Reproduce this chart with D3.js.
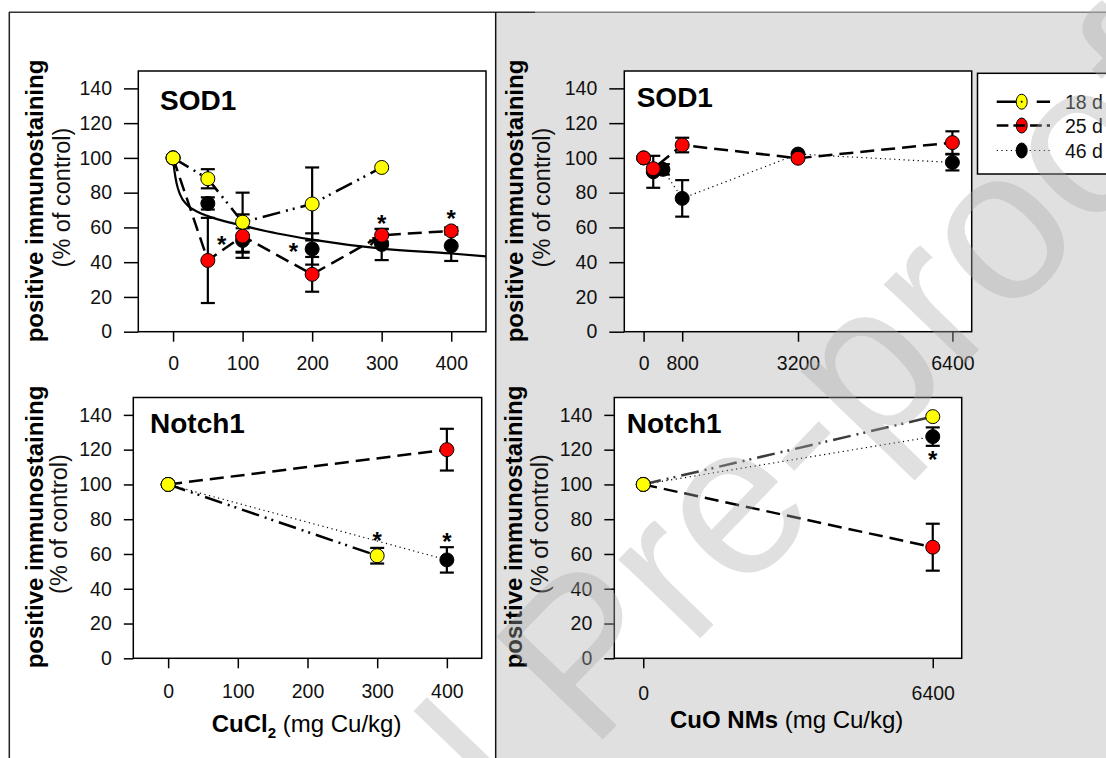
<!DOCTYPE html>
<html>
<head>
<meta charset="utf-8">
<script src="https://cdn.jsdelivr.net/npm/d3@7"></script>
<style>
    body { margin: 0; background: #fff; }
    svg { display: block; font-family: "Liberation Sans", Arial, sans-serif; }
</style>
</head>
<body>
<svg id="chart" width="1106" height="758"></svg>
<script>
// ---- data ----
var yTicks = [0, 20, 40, 60, 80, 100, 120, 140];
var xTicksCuCl = [0, 100, 200, 300, 400];
var xTicksCuOSod = [0, 800, 3200, 6400];
var xTicksCuONotch = [0, 6400];

// SOD1, CuCl2
var sodCuClDose = [0, 50, 100, 200, 300, 400];
var sodCuCl18 = [100, 88, 63, 73.5, 94.5, null];
var sodCuCl18Err = [0, 5.5, 17, 21, 0, 0];
var sodCuCl25 = [100, 41, 55, 33, 55.5, 58];
var sodCuCl25Err = [0, 24.5, 12.5, 10, 3.5, 2];
var sodCuCl46 = [100, 73.8, 52.5, 47.6, 50.2, 49.4];
var sodCuCl46Err = [0, 3.5, 7, 9, 9, 8.7];
// fitted curve, points
var sodCuClFitX = [0, 2, 5, 10, 20, 35, 50, 75, 100, 150, 200, 300, 400, 450];
var sodCuClFitY = [100, 92.5, 85.5, 79, 73, 69, 66.5, 63.5, 61, 56.5, 53, 47.8, 45, 43.3];
var sodCuClStarX = [70, 173, 288, 300, 400];
var sodCuClStarY = [53.2, 48.9, 52.4, 65.2, 68.1];

// SOD1, CuO NMs
var sodCuODose = [0, 200, 400, 800, 3200, 6400];
var sodCuO25 = [100, 93.8, null, 107.4, 99.8, 108.8];
var sodCuO25Err = [0, 0, 0, 4.2, 0, 6.5];
var sodCuO46 = [100, 92, 93.4, 76.7, 102.2, 97.4];
var sodCuO46Err = [0, 9.2, 3, 10.5, 0, 4.6];

// Notch1, CuCl2
var notchCuClDose = [0, 300, 400];
var notchCuCl18 = [100, 59, null];
var notchCuCl18Err = [0, 4.5, 0];
var notchCuCl25 = [100, null, 120];
var notchCuCl25Err = [0, 0, 12];
var notchCuCl46 = [100, null, 56.6];
var notchCuCl46Err = [0, 0, 7.3];
var notchCuClStarX = [300, 400];
var notchCuClStarY = [70.9, 70];

// Notch1, CuO NMs
var notchCuODose = [0, 6400];
var notchCuO18 = [100, 139];
var notchCuO18Err = [0, 0];
var notchCuO25 = [100, 63.9];
var notchCuO25Err = [0, 13.5];
var notchCuO46 = [100, 127.5];
var notchCuO46Err = [0, 5.3];
var notchCuOStarX = [6400];
var notchCuOStarY = [117.5];

var legendNames = ["18 d", "25 d", "46 d"];

// ---- styles ----
var styles = {
    "18 d": { fill: "#ffff00", dash: "18,6,2,5,2,6", width: 2.5, color: "#000" },
    "25 d": { fill: "#ff0000", dash: "14,7", width: 2.5, color: "#000" },
    "46 d": { fill: "#000000", dash: "1.2,3.5", width: 1.2, color: "#000" }
};

var svg = d3.select("#chart");

// page background / frame
svg.append("rect").attr("x", 496.5).attr("y", 13).attr("width", 610).attr("height", 745).attr("fill", "#e0e0e0");
svg.append("line").attr("x1", 9).attr("x2", 535).attr("y1", 12.3).attr("y2", 12.3).attr("stroke", "#333").attr("stroke-width", 1.5);
svg.append("line").attr("x1", 535).attr("x2", 1106).attr("y1", 12.3).attr("y2", 12.3).attr("stroke", "#808080").attr("stroke-width", 1.5);
svg.append("line").attr("x1", 9.3).attr("x2", 9.3).attr("y1", 12).attr("y2", 758).attr("stroke", "#222").attr("stroke-width", 1.5);
svg.append("line").attr("x1", 495.7).attr("x2", 495.7).attr("y1", 12).attr("y2", 758).attr("stroke", "#111").attr("stroke-width", 1.5);

function series(name, dose, vals, errs, opts) {
    var s = { name: name, pts: [] };
    dose.forEach(function (d, i) {
        if (vals[i] != null) s.pts.push({ x: d, y: vals[i], e: errs[i] });
    });
    s.line = !(opts && opts.noLine);
    s.lineColor = (opts && opts.lineColor) || styles[name].color;
    return s;
}

function zip(a, b) { return a.map(function (v, i) { return [v, b[i]]; }); }

var panels = [
    {
        left: 138.3, right: 486, top: 71, bottom: 331.7, xDomain: [-50, 450], xTicks: xTicksCuCl,
        yTick: 14.3, xPad: 14.5, label: "SOD1", labelX: 160, labelY: 110,
        yt1X: 43.3, yt1Y: 201, yt2X: 70, yt2Y: 197.5,
        series: [
            series("46 d", sodCuClDose, sodCuCl46, sodCuCl46Err, { noLine: true }),
            series("25 d", sodCuClDose, sodCuCl25, sodCuCl25Err),
            series("18 d", sodCuClDose, sodCuCl18, sodCuCl18Err)
        ],
        fit: zip(sodCuClFitX, sodCuClFitY),
        stars: zip(sodCuClStarX, sodCuClStarY)
    },
    {
        left: 624.3, right: 971.7, top: 71, bottom: 331.7, xDomain: [-400, 6800], xTicks: xTicksCuOSod,
        yTick: 15, xPad: 14.5, label: "SOD1", labelX: 636.7, labelY: 107.3,
        yt1X: 523.3, yt1Y: 201, yt2X: 550, yt2Y: 197.5,
        series: [
            series("46 d", sodCuODose, sodCuO46, sodCuO46Err),
            series("25 d", sodCuODose, sodCuO25, sodCuO25Err)
        ],
        stars: []
    },
    {
        left: 133.3, right: 481.7, top: 397.5, bottom: 658.3, xDomain: [-50, 450], xTicks: xTicksCuCl,
        yTick: 9.5, xPad: 16, label: "Notch1", labelX: 150, labelY: 433.3,
        yt1X: 42.5, yt1Y: 527, yt2X: 67, yt2Y: 524,
        series: [
            series("46 d", notchCuClDose, notchCuCl46, notchCuCl46Err),
            series("25 d", notchCuClDose, notchCuCl25, notchCuCl25Err),
            series("18 d", notchCuClDose, notchCuCl18, notchCuCl18Err)
        ],
        stars: zip(notchCuClStarX, notchCuClStarY),
        xTitle: { x: 211.7, y: 731.7, bold: "CuCl", sub: "2", rest: " (mg Cu/kg)" }
    },
    {
        left: 614.3, right: 961.7, top: 397.5, bottom: 658.3, xDomain: [-640, 7040], xTicks: xTicksCuONotch,
        yTick: 10, xPad: 17.5, label: "Notch1", labelX: 626.7, labelY: 433.3,
        yt1X: 522, yt1Y: 527, yt2X: 548, yt2Y: 524,
        series: [
            series("46 d", notchCuODose, notchCuO46, notchCuO46Err),
            series("25 d", notchCuODose, notchCuO25, notchCuO25Err),
            series("18 d", notchCuODose, notchCuO18, notchCuO18Err, { lineColor: "#3c3c3c" })
        ],
        stars: zip(notchCuOStarX, notchCuOStarY),
        xTitle: { x: 670, y: 728.3, bold: "CuO NMs", sub: "", rest: " (mg Cu/kg)" }
    }
];

function drawPanel(p) {
    var x = d3.scaleLinear().domain(p.xDomain).range([p.left, p.right]);
    var y = d3.scaleLinear().domain([0, 150]).range([p.bottom, p.top]);
    var g = svg.append("g");

    g.append("rect")
        .attr("x", p.left).attr("y", p.top)
        .attr("width", p.right - p.left).attr("height", p.bottom - p.top)
        .attr("fill", "#fff").attr("stroke", "#000").attr("stroke-width", 1.5);

    var yAxis = g.append("g")
        .attr("transform", "translate(" + p.left + ",0)")
        .call(d3.axisLeft(y).tickValues(yTicks).tickSizeInner(p.yTick).tickSizeOuter(0).tickPadding(12));
    var xAxis = g.append("g")
        .attr("transform", "translate(0," + p.bottom + ")")
        .call(d3.axisBottom(x).tickValues(p.xTicks).tickSizeInner(10).tickSizeOuter(0)
            .tickPadding(p.xPad).tickFormat(d3.format("d")));
    [yAxis, xAxis].forEach(function (a) {
        a.attr("font-family", null).attr("font-size", null);
        a.select(".domain").remove();
        a.selectAll("line").attr("stroke-width", 1.5);
        a.selectAll("text").style("font-size", "19.5px").attr("fill", "#111");
    });

    // panel label
    g.append("text").attr("x", p.labelX).attr("y", p.labelY)
        .style("font-size", "28px").style("font-weight", "bold").text(p.label);

    // y titles
    g.append("text")
        .attr("transform", "translate(" + p.yt1X + "," + p.yt1Y + ") rotate(-90)")
        .attr("text-anchor", "middle").style("font-size", "24px").style("font-weight", "bold")
        .text("positive immunostaining");
    g.append("text")
        .attr("transform", "translate(" + p.yt2X + "," + p.yt2Y + ") rotate(-90)")
        .attr("text-anchor", "middle").style("font-size", "23.5px").attr("fill", "#111")
        .text("(% of control)");

    // x title
    if (p.xTitle) {
        var t = g.append("text").attr("x", p.xTitle.x).attr("y", p.xTitle.y).style("font-size", "24px");
        t.append("tspan").style("font-weight", "bold").text(p.xTitle.bold);
        if (p.xTitle.sub) {
            t.append("tspan").style("font-weight", "bold").style("font-size", "15px").attr("dy", 6).text(p.xTitle.sub);
            t.append("tspan").attr("dy", -6).text(p.xTitle.rest);
        } else {
            t.append("tspan").text(p.xTitle.rest);
        }
    }

    var line = d3.line().x(function (d) { return x(d.x); }).y(function (d) { return y(d.y); });

    // connecting lines
    p.series.forEach(function (s) {
        if (!s.line) return;
        var st = styles[s.name];
        g.append("path").datum(s.pts)
            .attr("d", line)
            .attr("fill", "none")
            .attr("stroke", s.lineColor)
            .attr("stroke-width", st.width)
            .attr("stroke-dasharray", st.dash);
    });

    // fitted curve
    if (p.fit) {
        g.append("path").datum(p.fit)
            .attr("d", d3.line().x(function (d) { return x(d[0]); }).y(function (d) { return y(d[1]); }).curve(d3.curveMonotoneX))
            .attr("fill", "none").attr("stroke", "#000").attr("stroke-width", 2.2);
    }

    // error bars
    p.series.forEach(function (s) {
        var eb = g.append("g").selectAll("g").data(s.pts.filter(function (d) { return d.e > 0; }))
            .enter().append("g").attr("stroke", "#000").attr("stroke-width", 2.2);
        eb.append("line")
            .attr("x1", function (d) { return x(d.x); }).attr("x2", function (d) { return x(d.x); })
            .attr("y1", function (d) { return y(d.y - d.e); }).attr("y2", function (d) { return y(d.y + d.e); });
        [-1, 1].forEach(function (sgn) {
            eb.append("line")
                .attr("x1", function (d) { return x(d.x) - 7; }).attr("x2", function (d) { return x(d.x) + 7; })
                .attr("y1", function (d) { return y(d.y + sgn * d.e); }).attr("y2", function (d) { return y(d.y + sgn * d.e); });
        });
    });

    // markers
    p.series.forEach(function (s) {
        g.append("g").selectAll("circle").data(s.pts).enter().append("circle")
            .attr("cx", function (d) { return x(d.x); })
            .attr("cy", function (d) { return y(d.y); })
            .attr("r", 7)
            .attr("fill", styles[s.name].fill)
            .attr("stroke", "#000").attr("stroke-width", 1);
    });

    // significance stars
    g.append("g").selectAll("text").data(p.stars).enter().append("text")
        .attr("x", function (d) { return x(d[0]); })
        .attr("y", function (d) { return y(d[1]) + 13.5; })
        .attr("text-anchor", "middle")
        .style("font-size", "24px").style("font-weight", "bold")
        .text("*");
}

panels.forEach(drawPanel);

// legend
var lg = svg.append("g");
lg.append("rect").attr("x", 977.5).attr("y", 73.3).attr("width", 140).attr("height", 100.7)
    .attr("fill", "#fff").attr("stroke", "#000").attr("stroke-width", 1.5);
var legendY = [101.7, 125.5, 150.5];
legendNames.forEach(function (name, i) {
    var st = styles[name];
    var yy = legendY[i];
    if (name === "18 d") {
        lg.append("line").attr("x1", 996.7).attr("x2", 1050).attr("y1", yy).attr("y2", yy)
            .attr("stroke", "#000").attr("stroke-width", 2.5).attr("stroke-dasharray", "20,20,13.3");
    } else if (name === "46 d") {
        lg.append("line").attr("x1", 996.7).attr("x2", 1050).attr("y1", yy).attr("y2", yy)
            .attr("stroke", "#000").attr("stroke-width", st.width).attr("stroke-dasharray", st.dash);
    }
    lg.append("ellipse").attr("cx", 1021.7).attr("cy", yy).attr("rx", 5.5).attr("ry", 7.5)
        .attr("fill", st.fill).attr("stroke", "#000").attr("stroke-width", 1);
    if (name === "25 d") {
        lg.append("line").attr("x1", 996.7).attr("x2", 1050).attr("y1", yy).attr("y2", yy)
            .attr("stroke", "#000").attr("stroke-width", 2.5).attr("stroke-dasharray", "11.7,5");
    }
    if (name === "18 d") {
        lg.append("circle").attr("cx", 1021.7).attr("cy", yy).attr("r", 1).attr("fill", "#000");
    }
    lg.append("text").attr("x", 1065).attr("y", yy + 7).style("font-size", "19.5px").attr("fill", "#111").text(name);
});

// watermark
svg.append("text")
    .attr("transform", "translate(636,705) rotate(-46)")
    .attr("text-anchor", "middle")
    .style("font-size", "215px")
    .attr("fill", "rgb(170,170,170)")
    .attr("fill-opacity", 0.37)
    .style("pointer-events", "none")
    .text("Journal Pre-proof");
</script>
</body>
</html>
